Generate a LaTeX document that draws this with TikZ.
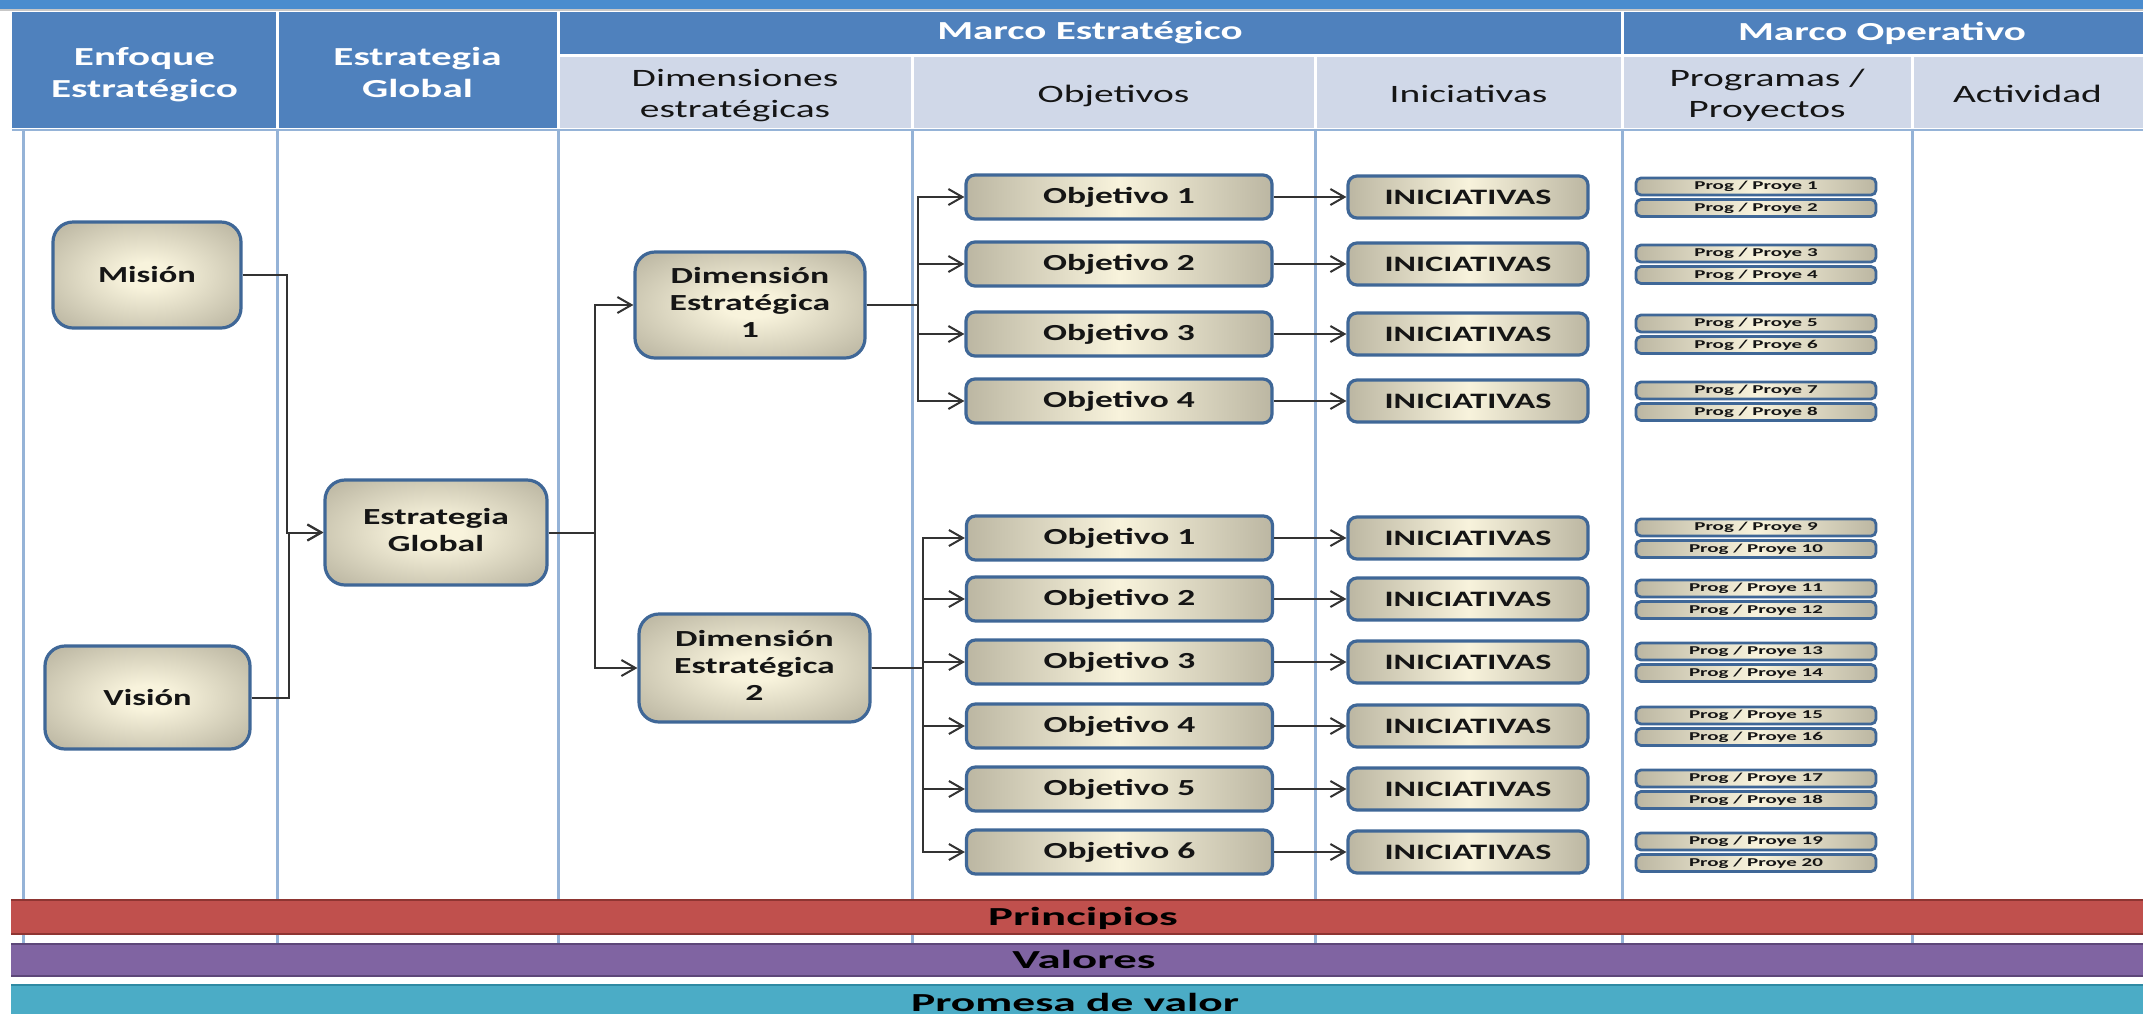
\documentclass[tikz,border=0pt]{standalone}
\usepackage{fontspec}
\setmainfont{Carlito}
\usepackage{graphicx}
\usetikzlibrary{arrows.meta}

\definecolor{hdrdark}{HTML}{4F81BD}
\definecolor{hdrlight}{HTML}{D0D8E8}
\definecolor{topband}{HTML}{4A8CCE}
\definecolor{vline}{HTML}{95B3D7}
\definecolor{bordblue}{HTML}{3F6797}
\definecolor{shc}{HTML}{F8F3DC}
\definecolor{she}{HTML}{9C9784}
\definecolor{shd}{HTML}{86816F}
\definecolor{conn}{HTML}{333333}
\definecolor{prinred}{HTML}{C0504D}
\definecolor{prinedge}{HTML}{8E3532}
\definecolor{valpurp}{HTML}{8064A2}
\definecolor{valedge}{HTML}{5D4779}
\definecolor{promteal}{HTML}{4BACC6}
\definecolor{promedge}{HTML}{2F8AA3}
\definecolor{txtdark}{HTML}{151515}

\pgfdeclareradialshading{bigsh}{\pgfpoint{0bp}{0bp}}{color(0bp)=(shc); color(6bp)=(shc); color(48bp)=(she); color(72bp)=(shd)}
\pgfdeclarehorizontalshading{widesh}{100bp}{color(0bp)=(shd); color(12bp)=(she); color(50bp)=(shc); color(88bp)=(she); color(100bp)=(shd)}

\newcommand{\sx}[2]{\scalebox{#1}[1]{#2}}
\newcommand{\ml}[1]{\begin{tabular}{@{}c@{}}#1\end{tabular}}

\tikzset{
  bigbox/.style 2 args={draw=bordblue, line width=1.6pt, rounded corners=10pt, shade, shading=bigsh,
    minimum width=#1, minimum height=#2, inner sep=0pt, text=txtdark,
    font=\fontsize{11.5}{13.5}\selectfont\bfseries},
  objbox/.style={draw=bordblue, line width=1.6pt, rounded corners=4.5pt, shade, shading=widesh,
    minimum width=153pt, minimum height=22pt, inner sep=0pt, text=txtdark,
    font=\fontsize{11.5}{13.5}\selectfont\bfseries},
  inibox/.style={draw=bordblue, line width=1.6pt, rounded corners=4.5pt, shade, shading=widesh,
    minimum width=120pt, minimum height=21pt, inner sep=0pt, text=txtdark,
    font=\fontsize{11}{13}\selectfont\bfseries},
  prbox/.style={draw=bordblue, line width=1.4pt, rounded corners=2.5pt, shade, shading=widesh,
    minimum width=120pt, minimum height=8.5pt, inner sep=0pt, text=txtdark,
    font=\fontsize{6}{7}\selectfont\bfseries},
  hdrtext/.style={text=white, font=\fontsize{13}{16}\selectfont\bfseries, inner sep=0pt},
  subtext/.style={text=txtdark, font=\fontsize{12.5}{15.5}\selectfont, inner sep=0pt},
  bartext/.style={text=black, font=\fontsize{13}{16}\selectfont\bfseries, inner sep=0pt, anchor=base},
  arr/.style={draw=conn, line width=1pt, -{Straight Barb[length=7pt,width=8pt]}},
}

\begin{document}
\begin{tikzpicture}[x=0.5pt,y=-0.5pt]
\useasboundingbox (0,0) rectangle (2143,1014);
\fill[white] (0,0) rectangle (2143,1014);
% top band
\fill[topband] (0,0) rectangle (2143,9);
\draw[black!22, line width=1pt] (0,10) -- (2143,10);
% header
\fill[hdrdark] (12,12) rectangle (2143,128);
\fill[hdrlight] (558,55) rectangle (2143,128);
\draw[white, line width=1.5pt] (277,12) -- (277,128) (558,12) -- (558,128) (1622,12) -- (1622,128)
  (558,55) -- (2143,55) (912,55) -- (912,128) (1315,55) -- (1315,128) (1912,55) -- (1912,128);
\draw[vline, line width=1pt] (12,129.5) -- (2143,129.5);
% body lines
\foreach \xx in {23,277,558,912,1315,1622,1912}
  \draw[vline, line width=1.5pt] (\xx,131) -- (\xx,943);
% bars
\fill[prinred] (11,899) rectangle (2143,935);
\draw[prinedge, line width=1.2pt] (11,900) -- (2143,900) (11,934) -- (2143,934);
\fill[valpurp] (11,943) rectangle (2143,977);
\draw[valedge, line width=1.2pt] (11,944) -- (2143,944) (11,976) -- (2143,976);
\fill[promteal] (11,984) rectangle (2143,1014);
\draw[promedge, line width=1.2pt] (11,985) -- (2143,985);

% header texts
\node[hdrtext] (hEnf) at (144.5,75) {\sx{1.58}{\ml{Enfoque\\Estratégico}}};
\node[hdrtext] (hEst) at (417.5,75) {\sx{1.58}{\ml{Estrategia\\Global}}};
\node[hdrtext] (hME) at (1090,33) {\sx{1.58}{Marco Estratégico}};
\node[hdrtext] (hMO) at (1882,33) {\sx{1.58}{Marco Operativo}};
\node[subtext] (sDim) at (735,96) {\sx{1.58}{\ml{Dimensiones\\estratégicas}}};
\node[subtext] (sObj) at (1113.5,96) {\sx{1.58}{\ml{Objetivos}}};
\node[subtext] (sIni) at (1468.5,96) {\sx{1.58}{\ml{Iniciativas}}};
\node[subtext] (sPro) at (1767,96) {\sx{1.58}{\ml{Programas /\\Proyectos}}};
\node[subtext] (sAct) at (2027.5,96) {\sx{1.58}{\ml{Actividad}}};

% bar texts
\node[bartext] (tPrin) at (1083,925) {\sx{1.8}{Principios}};
\node[bartext] (tVal) at (1084,968) {\sx{1.8}{Valores}};
\node[bartext] (tProm) at (1075,1011) {\sx{1.75}{Promesa de valor}};

% main boxes
\node[bigbox={94pt}{53pt}] (mis) at (147,275) {\sx{1.5}{Misión}};
\node[bigbox={102.5pt}{51.5pt}] (vis) at (147.5,697.5) {\sx{1.5}{Visión}};
\node[bigbox={111pt}{52.5pt}] (eg) at (436,532.5) {\sx{1.55}{\ml{Estrategia\\Global}}};
\node[bigbox={115pt}{53pt}] (d1) at (750,305) {\sx{1.55}{\ml{Dimensión\\Estratégica\\1}}};
\node[bigbox={115.5pt}{54pt}] (d2) at (754.5,668) {\sx{1.55}{\ml{Dimensión\\Estratégica\\2}}};

% group 1
\foreach \yy [count=\i] in {197,264,334,401} {
  \pgfmathtruncatemacro{\pa}{2*\i-1}
  \pgfmathtruncatemacro{\pb}{2*\i}
  \node[objbox] (oa\i) at (1119,\yy) {\sx{1.54}{Objetivo \i}};
  \node[inibox] (ia\i) at (1468,\yy) {\sx{1.55}{INICIATIVAS}};
  \node[prbox] (pr\pa) at (1756,\yy-10.5) {\sx{1.75}{Prog / Proye \pa}};
  \node[prbox] (pr\pb) at (1756,\yy+11) {\sx{1.75}{Prog / Proye \pb}};
}
% group 2
\foreach \yy [count=\i] in {538,599,662,726,789,852} {
  \pgfmathtruncatemacro{\pa}{8+2*\i-1}
  \pgfmathtruncatemacro{\pb}{8+2*\i}
  \node[objbox] (ob\i) at (1119.5,\yy) {\sx{1.54}{Objetivo \i}};
  \node[inibox] (ib\i) at (1468,\yy) {\sx{1.55}{INICIATIVAS}};
  \node[prbox] (pr\pa) at (1756,\yy-10.5) {\sx{1.75}{Prog / Proye \pa}};
  \node[prbox] (pr\pb) at (1756,\yy+11) {\sx{1.75}{Prog / Proye \pb}};
}

% connectors
\draw[arr] (mis.east) -- ++(44,0) |- (eg.west);
\draw[arr] (vis.east) -- ++(37,0) |- (eg.west);
\draw[arr] (eg.east) -- ++(46,0) |- (d1.west);
\draw[arr] (eg.east) -- ++(46,0) |- (d2.west);
\foreach \i in {1,...,4} {
  \draw[arr] (d1.east) -- ++(51,0) |- (oa\i.west);
  \draw[arr] (oa\i.east) -- (ia\i.west);
}
\foreach \i in {1,...,6} {
  \draw[arr] (d2.east) -- ++(51,0) |- (ob\i.west);
  \draw[arr] (ob\i.east) -- (ib\i.west);
}
\end{tikzpicture}
\end{document}
